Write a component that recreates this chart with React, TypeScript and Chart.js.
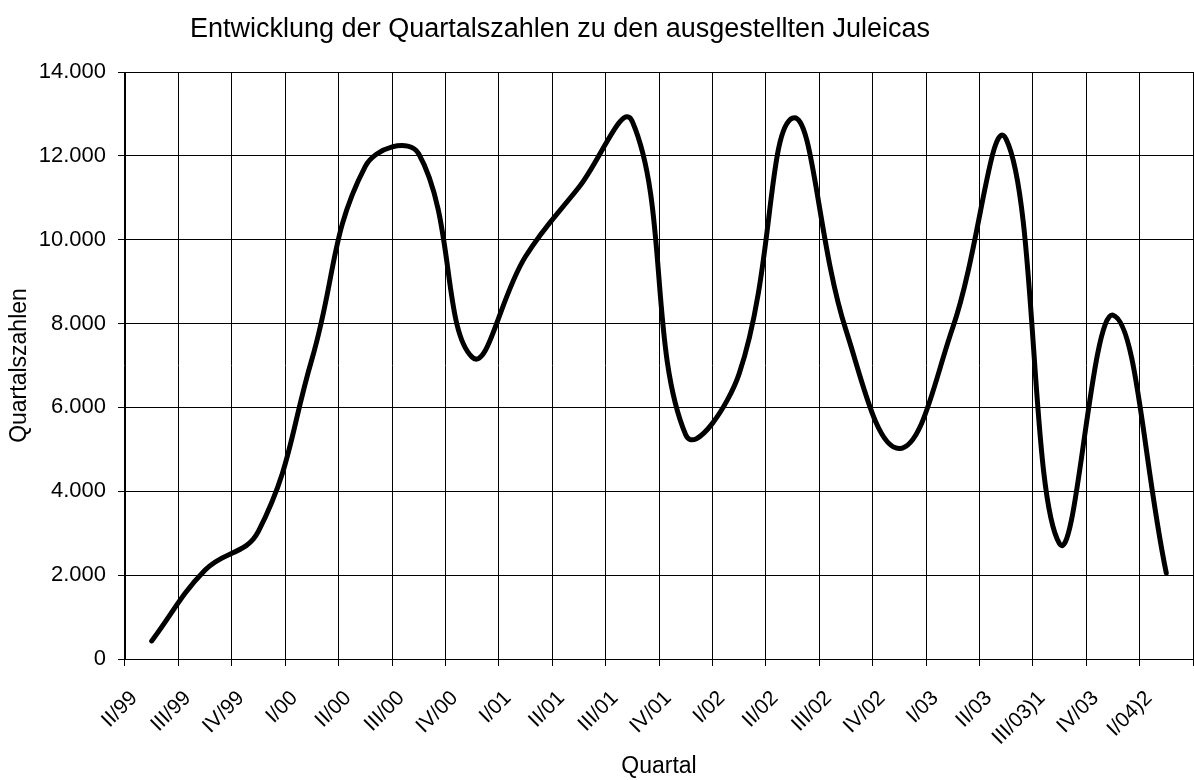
import React, { useEffect, useRef } from 'react';
import { Chart, registerables } from 'chart.js';

Chart.register(...registerables);

const TITLE = 'Entwicklung der Quartalszahlen zu den ausgestellten Juleicas';
const X_TITLE = 'Quartal';
const Y_TITLE = 'Quartalszahlen';

const quarters = [
  'II/99', 'III/99', 'IV/99', 'I/00', 'II/00', 'III/00', 'IV/00', 'I/01', 'II/01', 'III/01',
  'IV/01', 'I/02', 'II/02', 'III/02', 'IV/02', 'I/03', 'II/03', 'III/03)1', 'IV/03', 'I/04)2',
];

const juleicaCounts = [
  430, 2120, 3050, 7150, 11750, 12050, 7200, 9600, 11250, 12820,
  5350, 6800, 12900, 7850, 5020, 7900, 12400, 2750, 8200, 2050,
];

const Y_MIN = 0;
const Y_MAX = 14000;
const Y_STEP = 2000;

const FONT = '"Liberation Sans", Arial, sans-serif';

function formatThousands(v: number | string): string {
  return String(v).replace(/\B(?=(\d{3})+(?!\d))/g, '.');
}

const titlePlugin = {
  id: 'customTitle',
  afterDraw(chart: any) {
    const ctx = chart.ctx as CanvasRenderingContext2D;
    ctx.save();
    ctx.font = `27px ${FONT}`;
    ctx.fillStyle = '#000';
    ctx.textAlign = 'center';
    ctx.textBaseline = 'alphabetic';
    ctx.fillText(TITLE, 560, 37);
    ctx.restore();
  },
};

export default function App() {
  const canvasRef = useRef<HTMLCanvasElement | null>(null);

  useEffect(() => {
    const canvas = canvasRef.current;
    if (!canvas) return;
    const chart = new Chart(canvas, {
      type: 'line',
      data: {
        labels: quarters,
        datasets: [
          {
            label: Y_TITLE,
            data: juleicaCounts,
            borderColor: '#000',
            backgroundColor: '#000',
            borderWidth: 5,
            pointRadius: 0,
            pointHoverRadius: 0,
            tension: 0.42,
            fill: false,
            borderCapStyle: 'round',
            borderJoinStyle: 'round',
          },
        ],
      },
      plugins: [titlePlugin],
      options: {
        responsive: false,
        animation: false,
        devicePixelRatio: 1,
        layout: { padding: { top: 72, left: 0, right: 1, bottom: 0 } },
        font: { family: FONT },
        plugins: {
          legend: { display: false },
          tooltip: { enabled: false },
          title: { display: false },
        },
        scales: {
          x: {
            type: 'category',
            offset: true,
            grid: {
              offset: true,
              color: '#000',
              lineWidth: 1,
              drawTicks: true,
              tickLength: 7,
              tickColor: '#000',
            },
            border: { display: true, color: '#000', width: 1 },
            ticks: {
              autoSkip: false,
              minRotation: 45,
              maxRotation: 45,
              labelOffset: -17.5,
              padding: 20,
              color: '#000',
              font: { family: FONT, size: 21 },
            },
            title: {
              display: true,
              text: X_TITLE,
              color: '#000',
              font: { family: FONT, size: 23 },
              padding: { top: 0, bottom: 0 },
            },
            afterFit: (s: any) => {
              s.height = 121;
              s.paddingLeft = 0;
              s.paddingRight = 0;
            },
          },
          y: {
            min: Y_MIN,
            max: Y_MAX,
            ticks: {
              stepSize: Y_STEP,
              padding: 12,
              color: '#000',
              font: { family: FONT, size: 22 },
              callback: (v: any) => formatThousands(v),
            },
            grid: {
              color: '#000',
              lineWidth: 1,
              drawTicks: true,
              tickLength: 7,
              tickColor: '#000',
            },
            border: { display: true, color: '#000', width: 1 },
            title: {
              display: true,
              text: Y_TITLE,
              color: '#000',
              font: { family: FONT, size: 23 },
              padding: { top: 6, bottom: 0 },
            },
            afterFit: (s: any) => {
              s.width = 125;
            },
          },
        },
      } as any,
    });
    return () => chart.destroy();
  }, []);

  return (
    <div style={{ position: 'absolute', left: 0, top: 0, width: 1194, height: 780, background: '#fff' }}>
      <canvas ref={canvasRef} width={1194} height={780} style={{ display: 'block' }} />
    </div>
  );
}
